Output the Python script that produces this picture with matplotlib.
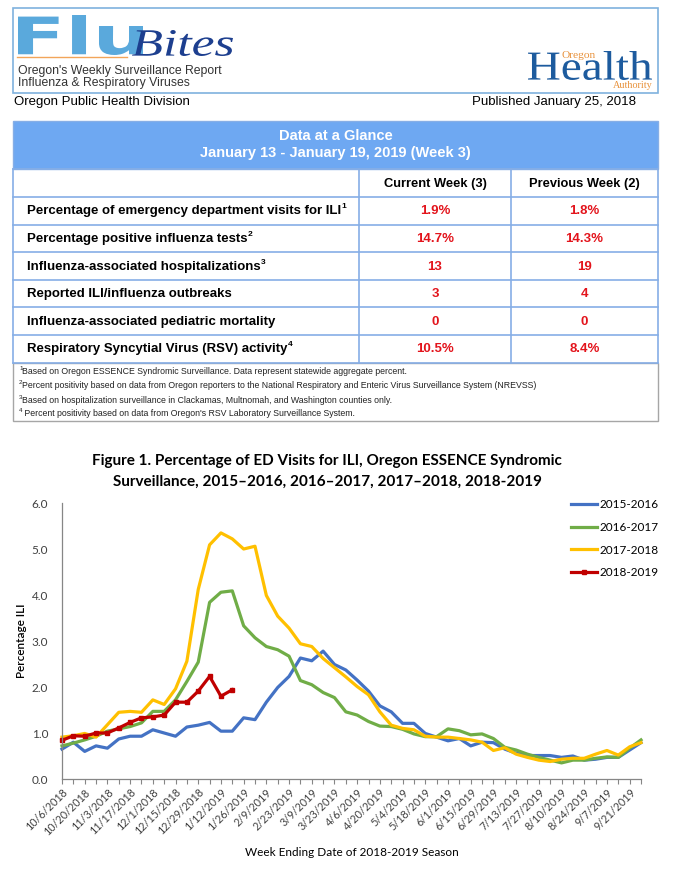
import numpy as np
import matplotlib
matplotlib.use("Agg")
import matplotlib.pyplot as plt
from matplotlib.patches import Rectangle, PathPatch
from matplotlib.textpath import TextPath
from matplotlib.font_manager import FontProperties
from matplotlib.transforms import Affine2D

# ---- data ----
week_labels = ["10/6/2018", "10/20/2018", "11/3/2018", "11/17/2018", "12/1/2018",
               "12/15/2018", "12/29/2018", "1/12/2019", "1/26/2019", "2/9/2019",
               "2/23/2019", "3/9/2019", "3/23/2019", "4/6/2019", "4/20/2019",
               "5/4/2019", "5/18/2019", "6/1/2019", "6/15/2019", "6/29/2019",
               "7/13/2019", "7/27/2019", "8/10/2019", "8/24/2019", "9/7/2019",
               "9/21/2019"]

s2015_2016 = [0.65, 0.80, 0.60, 0.72, 0.67, 0.87, 0.93, 0.93, 1.07, 1.00,
              0.93, 1.13, 1.17, 1.23, 1.04, 1.04, 1.33, 1.29, 1.67, 1.99,
              2.23, 2.63, 2.57, 2.78, 2.49, 2.37, 2.15, 1.91, 1.59, 1.46,
              1.21, 1.21, 0.99, 0.91, 0.83, 0.88, 0.72, 0.80, 0.79, 0.65,
              0.56, 0.51, 0.51, 0.51, 0.47, 0.50, 0.41, 0.43, 0.47, 0.47,
              0.63, 0.79]
s2016_2017 = [0.72, 0.78, 0.85, 0.93, 1.04, 1.09, 1.14, 1.22, 1.47, 1.47,
              1.72, 2.12, 2.54, 3.84, 4.06, 4.09, 3.33, 3.07, 2.88, 2.81,
              2.67, 2.14, 2.05, 1.88, 1.77, 1.46, 1.39, 1.25, 1.15, 1.14,
              1.08, 0.98, 0.92, 0.92, 1.09, 1.05, 0.96, 0.98, 0.88, 0.69,
              0.63, 0.54, 0.47, 0.41, 0.35, 0.41, 0.41, 0.45, 0.48, 0.47,
              0.67, 0.85]
s2017_2018 = [0.91, 0.94, 0.99, 0.91, 1.18, 1.45, 1.47, 1.45, 1.72, 1.62,
              1.96, 2.56, 4.12, 5.09, 5.35, 5.22, 5.00, 5.06, 3.99, 3.54,
              3.28, 2.94, 2.88, 2.62, 2.42, 2.22, 2.01, 1.83, 1.46, 1.17,
              1.10, 1.07, 0.93, 0.91, 0.91, 0.88, 0.85, 0.80, 0.62, 0.68,
              0.54, 0.47, 0.41, 0.38, 0.43, 0.45, 0.45, 0.54, 0.62, 0.52,
              0.70, 0.79]
s2018_2019 = [0.84, 0.94, 0.93, 1.00, 1.00, 1.11, 1.23, 1.33, 1.35, 1.39,
              1.67, 1.67, 1.91, 2.23, 1.80, 1.94]
y_ticks = [0, 1, 2, 3, 4, 5, 6]

row_labels = ["Percentage of emergency department visits for ILI",
              "Percentage positive influenza tests",
              "Influenza-associated hospitalizations",
              "Reported ILI/influenza outbreaks",
              "Influenza-associated pediatric mortality",
              "Respiratory Syncytial Virus (RSV) activity"]
row_notes = ["1", "2", "3", "", "", "4"]
current_week = ["1.9%", "14.7%", "13", "3", "0", "10.5%"]
previous_week = ["1.8%", "14.3%", "19", "4", "0", "8.4%"]
footnotes = [("1", "Based on Oregon ESSENCE Syndromic Surveillance. Data represent statewide aggregate percent."),
             ("2", "Percent positivity based on data from Oregon reporters to the National Respiratory and Enteric Virus Surveillance System (NREVSS)"),
             ("3", "Based on hospitalization surveillance in Clackamas, Multnomah, and Washington counties only."),
             ("4", " Percent positivity based on data from Oregon's RSV Laboratory Surveillance System.")]

SANS = ["Liberation Sans", "DejaVu Sans"]
CHART = ["Lato", "DejaVu Sans"]

fig = plt.figure(figsize=(6.82, 8.71), dpi=100)
bg = fig.add_axes([0, 0, 1, 1])
bg.set_xlim(0, 682)
bg.set_ylim(871, 0)
bg.axis("off")
renderer = fig.canvas.get_renderer()


def fit_text(s, x0, x1, y_top, y_base, color, **fp):
    # stretch a text outline into a pixel box (logo lettering)
    tp = TextPath((0, 0), s, size=1, prop=FontProperties(**fp))
    bb = tp.get_extents()
    tr = (Affine2D().translate(-bb.x0, -bb.y0)
          .scale((x1 - x0) / bb.width, -(y_base - y_top) / bb.height)
          .translate(x0, y_base))
    bg.add_patch(PathPatch(tr.transform_path(tp), facecolor=color, lw=0))


# ---- header ----
R = 658
bg.add_patch(Rectangle((13, 8), R - 13, 85, fill=False, ec="#7fb2de", lw=1.2))
fit_text("Flu", 18, 143, 15, 55, "#5aa9dc", family="DejaVu Sans", weight="bold")
bg.plot([17, 127], [57.5, 57.5], color="#f2a55a", lw=1.0)
fit_text("Bites", 132, 233, 30, 56, "#1d3f8f", family="Liberation Serif", style="italic")
bg.text(18, 71, "Oregon's Weekly Surveillance Report", fontsize=8.8, family=SANS,
        color="#333333", va="center")
bg.text(18, 83, "Influenza & Respiratory Viruses", fontsize=8.8, family=SANS,
        color="#333333", va="center")
fit_text("Health", 528, 652, 51, 80, "#1d5b9e", family="Liberation Serif")
bg.text(562, 56, "Oregon", fontsize=8.2, family="Liberation Serif", color="#e8913a",
        va="center")
bg.text(653, 86, "Authority", fontsize=7.3, family="Liberation Serif",
        color="#e8913a", va="center", ha="right")
bg.text(14, 102, "Oregon Public Health Division", fontsize=9.5, family=SANS,
        va="center")
bg.text(636, 102, "Published January 25, 2018", fontsize=9.5, family=SANS,
        va="center", ha="right")

# ---- data at a glance table ----
L, C1, C2 = 13, 359, 511
grid = "#86aee6"
bg.add_patch(Rectangle((L, 121), R - L, 48, fc="#6ea8f2", ec=grid, lw=1))
bg.text((L + R) / 2, 136, "Data at a Glance", fontsize=10.5, family=SANS,
        weight="bold", color="white", ha="center", va="center")
bg.text((L + R) / 2, 153, "January 13 - January 19, 2019 (Week 3)", fontsize=10.5,
        family=SANS, weight="bold", color="white", ha="center", va="center")

row_h = 27.6
top = 169
bottoms = [top + 28 + row_h * k for k in range(len(row_labels) + 1)]
for yy in [top] + bottoms:
    bg.plot([L, R], [yy, yy], color=grid, lw=1.2)
for xx in [L, C1, C2, R]:
    bg.plot([xx, xx], [top, bottoms[-1]], color=grid, lw=1.2)
bg.text((C1 + C2) / 2, top + 14.5, "Current Week (3)", fontsize=9.3, family=SANS,
        weight="bold", ha="center", va="center")
bg.text((C2 + R) / 2, top + 14.5, "Previous Week (2)", fontsize=9.3, family=SANS,
        weight="bold", ha="center", va="center")
for k, lab in enumerate(row_labels):
    yc = bottoms[k] + row_h / 2 + 0.5
    t = bg.text(27, yc, lab, fontsize=9.5, family=SANS, weight="bold", va="center")
    if row_notes[k]:
        bb = t.get_window_extent(renderer)
        xe = bg.transData.inverted().transform((bb.x1, bb.y1))[0]
        bg.text(xe + 0.5, yc - 4.5, row_notes[k], fontsize=6, family=SANS,
                weight="bold", va="center")
    bg.text((C1 + C2) / 2, yc, current_week[k], fontsize=9.5, family=SANS,
            weight="bold", color="#e3141c", ha="center", va="center")
    bg.text((C2 + R) / 2, yc, previous_week[k], fontsize=9.5, family=SANS,
            weight="bold", color="#e3141c", ha="center", va="center")

fb = bottoms[-1]
bg.add_patch(Rectangle((L, fb), R - L, 421 - fb, fill=False, ec="#a6a6a6", lw=1))
for k, (n, txt) in enumerate(footnotes):
    yc = [371, 385, 400, 413][k]
    bg.text(19, yc - 2.5, n, fontsize=4.5, family=SANS, va="center", color="#222222")
    bg.text(22.5, yc, txt, fontsize=6.3, family=SANS, va="center", color="#222222")

# ---- figure 1 line chart ----
fig.text(327 / 682, 1 - 461 / 871,
         "Figure 1. Percentage of ED Visits for ILI, Oregon ESSENCE Syndromic",
         fontsize=11, family=CHART, weight="bold", ha="center", va="center")
fig.text(327 / 682, 1 - 482 / 871,
         "Surveillance, 2015\u20132016, 2016\u20132017, 2017\u20132018, 2018-2019",
         fontsize=11, family=CHART, weight="bold", ha="center", va="center")

ax = fig.add_axes([62 / 682, 1 - 779 / 871, (641 - 62) / 682, (779 - 503) / 871])
weeks = np.arange(len(s2015_2016))
ax.plot(weeks, s2015_2016, color="#4472c4", lw=2.3, label="2015-2016", clip_on=False)
ax.plot(weeks, s2016_2017, color="#70ad47", lw=2.3, label="2016-2017", clip_on=False)
ax.plot(weeks, s2017_2018, color="#ffc000", lw=2.3, label="2017-2018", clip_on=False)
ax.plot(np.arange(len(s2018_2019)), s2018_2019, color="#c00000", lw=2.3,
        marker="s", markersize=2.5, label="2018-2019", clip_on=False)

ax.set_xlim(0, len(s2015_2016) - 1)
ax.set_ylim(0, 6)
ax.set_yticks(y_ticks)
ax.set_yticklabels([f"{v:.1f}" for v in y_ticks], fontsize=8.5, family=CHART,
                   color="#404040")
ax.set_xticks(np.arange(0, len(s2015_2016), 2))
ax.set_xticks(np.arange(1, len(s2015_2016), 2), minor=True)
ax.set_xticklabels(week_labels, rotation=45, ha="right", rotation_mode="anchor",
                   fontsize=7.8, family=CHART, color="#404040")
ax.tick_params(axis="y", length=0, pad=10)
ax.tick_params(axis="x", which="both", length=3.5, width=0.8, color="#868686",
               direction="out", pad=2)
for side in ["top", "right"]:
    ax.spines[side].set_visible(False)
for side in ["left", "bottom"]:
    ax.spines[side].set_color("#868686")
    ax.spines[side].set_linewidth(0.9)

ax.set_ylabel("Percentage ILI", fontsize=8.5, family=CHART, weight="semibold",
              labelpad=3)
fig.text(352 / 682, 1 - 852 / 871, "Week Ending Date of 2018-2019 Season",
         fontsize=8.5, family=CHART, ha="center", va="center")

ax.legend(loc="upper left", bbox_to_anchor=(571 / 682, 1 - 499 / 871),
          bbox_transform=fig.transFigure, frameon=False, handlelength=2.2,
          handletextpad=0.2, labelspacing=1.0, borderpad=0, borderaxespad=0,
          prop={"family": CHART, "size": 8.5})

fig.savefig("out.png", dpi=100)
